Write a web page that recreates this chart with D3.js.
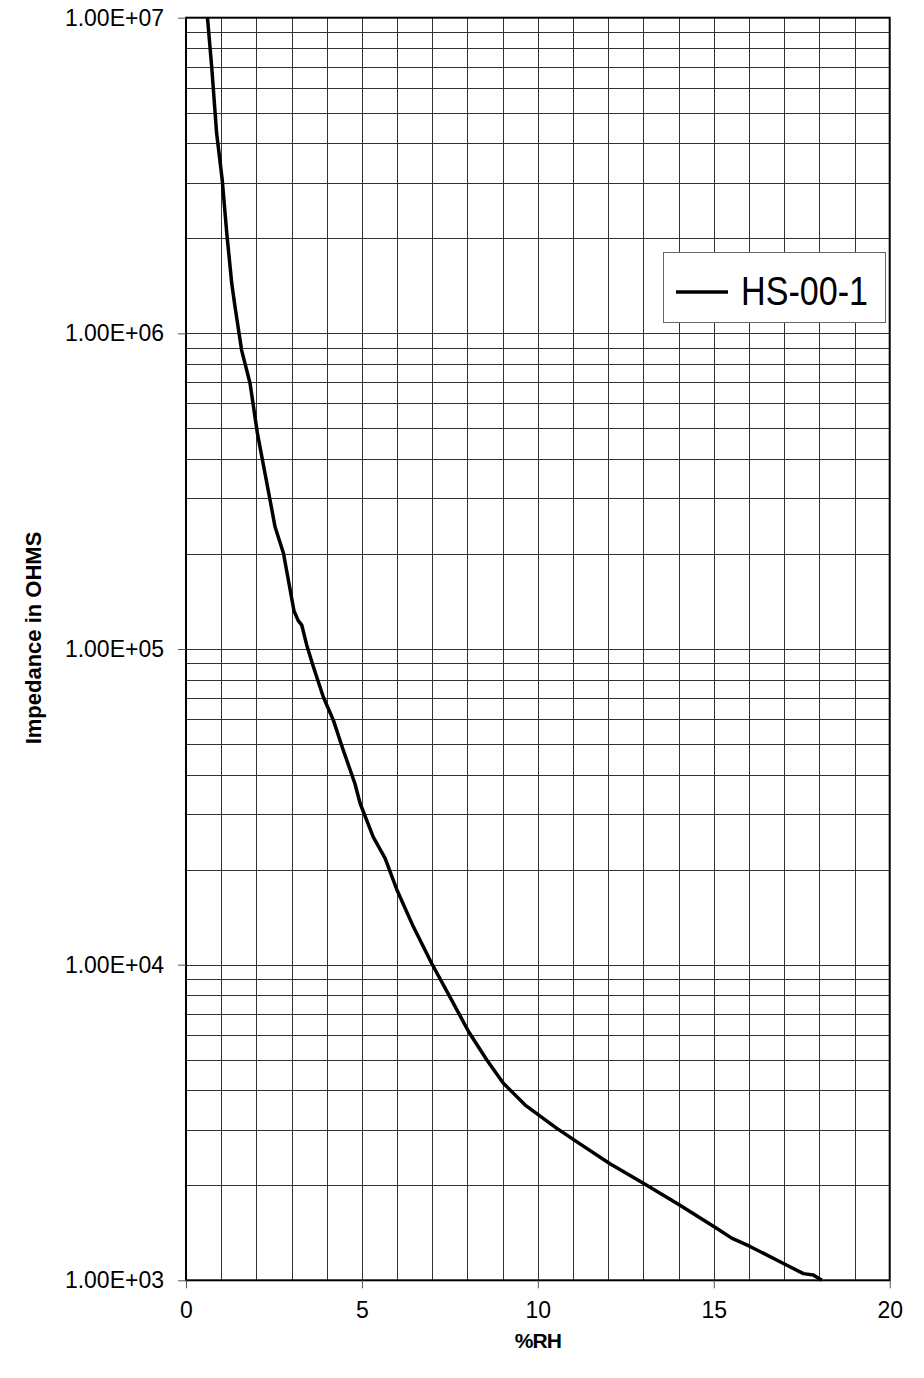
<!DOCTYPE html>
<html>
<head>
<meta charset="utf-8">
<script src="https://cdn.jsdelivr.net/npm/d3@7"></script>
<style>
  body { margin: 0; background: #fff; }
  svg text { font-family: Arial, "Liberation Sans", sans-serif; fill: #000; }
</style>
</head>
<body>
<div id="chart"></div>
<script>
// data
var seriesName = "HS-00-1";
var rh = [0.61, 0.73, 0.87, 1.03, 1.16, 1.30, 1.39, 1.58, 1.82, 2.03, 2.39, 2.53, 2.77, 3.07, 3.19, 3.29,
  3.43, 3.62, 3.90, 4.19, 4.47, 4.80, 4.95, 5.32, 5.66, 5.99, 6.46, 6.98, 7.50, 8.03, 8.55, 9.02, 9.64,
  10.54, 11.10, 12.05, 13.00, 14.04, 15.09, 15.51, 16.03, 16.98, 17.55, 17.83, 18.07];
var impedance = [1.0e7, 7.0e6, 4.31e6, 3.06e6, 2.07e6, 1.44e6, 1.22e6, 8.85e5, 6.95e5, 4.82e5, 2.96e5,
  2.44e5, 2.01e5, 1.32e5, 1.23e5, 1.19e5, 1.03e5, 8.79e4, 7.06e4, 5.94e4, 4.78e4, 3.75e4, 3.24e4, 2.54e4,
  2.17e4, 1.73e4, 1.32e4, 1.01e4, 7.91e3, 6.14e3, 4.99e3, 4.21e3, 3.59e3, 3.03e3, 2.75e3, 2.34e3, 2.03e3,
  1.73e3, 1.46e3, 1.36e3, 1.28e3, 1.13e3, 1.05e3, 1.04e3, 1.0e3];
var xTickValues = [0, 5, 10, 15, 20];
var yTickValues = [1e3, 1e4, 1e5, 1e6, 1e7];
var yTickLabels = ["1.00E+03", "1.00E+04", "1.00E+05", "1.00E+06", "1.00E+07"];
var xTitle = "%RH";
var yTitle = "Impedance in OHMS";

var app = {};

(function(app) {
  var W = 924, H = 1378;
  var left = 186, right = 889.7, top = 17.7, bottom = 1280.3;

  app.x = d3.scaleLinear().domain([0, 20]).range([left, right]);
  app.y = d3.scaleLog().domain([1e3, 1e7]).range([bottom, top]);

  app.draw = function() {
    var x = app.x, y = app.y;
    var svg = d3.select("#chart").append("svg")
      .attr("width", W)
      .attr("height", H);

    // grid: every whole %RH, and every log minor step
    var gx = d3.range(1, 20);
    var gy = y.ticks().filter(function(d) { return d > 1e3 && d < 1e7; });

    svg.append("g").selectAll("line")
      .data(gx).enter().append("line")
      .attr("x1", function(d) { return Math.round(x(d)) + 0.5; })
      .attr("x2", function(d) { return Math.round(x(d)) + 0.5; })
      .attr("y1", top).attr("y2", bottom)
      .attr("stroke", "#333").attr("stroke-width", 1);

    svg.append("g").selectAll("line")
      .data(gy).enter().append("line")
      .attr("y1", function(d) { return Math.round(y(d)) + 0.5; })
      .attr("y2", function(d) { return Math.round(y(d)) + 0.5; })
      .attr("x1", left).attr("x2", right)
      .attr("stroke", "#333").attr("stroke-width", 1);

    // frame
    svg.append("rect")
      .attr("x", left).attr("y", top)
      .attr("width", right - left).attr("height", bottom - top)
      .attr("fill", "none").attr("stroke", "#000").attr("stroke-width", 2);

    // axes
    var xAxis = d3.axisBottom(x).tickValues(xTickValues).tickSize(8).tickPadding(13).tickFormat(d3.format("d"));
    var yAxis = d3.axisLeft(y).tickValues(yTickValues).tickSize(8).tickPadding(14)
      .tickFormat(function(d, i) { return yTickLabels[i]; });

    var ax = svg.append("g").attr("transform", "translate(0," + bottom + ")").call(xAxis);
    var ay = svg.append("g").attr("transform", "translate(" + left + ",0)").call(yAxis);
    [ax, ay].forEach(function(a) {
      a.select(".domain").remove();
      a.selectAll(".tick line").attr("stroke", "#555");
      a.selectAll(".tick text")
        .style("font-size", "23px")
        .style("font-family", "Arial, 'Liberation Sans', sans-serif")
        .attr("fill", "#000");
    });

    // curve
    var pts = rh.map(function(d, i) { return [d, impedance[i]]; });
    var line = d3.line()
      .x(function(d) { return x(d[0]); })
      .y(function(d) { return y(d[1]); });

    svg.append("path")
      .datum(pts)
      .attr("d", line)
      .attr("fill", "none")
      .attr("stroke", "#000")
      .attr("stroke-width", 3.5)
      .attr("stroke-linejoin", "round");

    // legend
    var lg = svg.append("g");
    lg.append("rect")
      .attr("x", 663.5).attr("y", 252.5)
      .attr("width", 222).attr("height", 70)
      .attr("fill", "#fff").attr("stroke", "#666").attr("stroke-width", 1);
    lg.append("line")
      .attr("x1", 676).attr("x2", 728).attr("y1", 292).attr("y2", 292)
      .attr("stroke", "#000").attr("stroke-width", 3.5);
    lg.append("text")
      .attr("x", 741).attr("y", 305)
      .attr("textLength", 127).attr("lengthAdjust", "spacingAndGlyphs")
      .style("font-size", "41px")
      .text(seriesName);

    // titles
    svg.append("text")
      .attr("x", (left + right) / 2).attr("y", 1348)
      .attr("text-anchor", "middle")
      .style("font-size", "21px").style("font-weight", "bold")
      .style("letter-spacing", "-1px")
      .text(xTitle);

    svg.append("text")
      .attr("transform", "translate(41,638) rotate(-90)")
      .attr("text-anchor", "middle")
      .style("font-size", "22px").style("font-weight", "bold")
      .text(yTitle);
  };

  return app;
})(app);

window.onload = function() {
  app.draw();
};
</script>
</body>
</html>
